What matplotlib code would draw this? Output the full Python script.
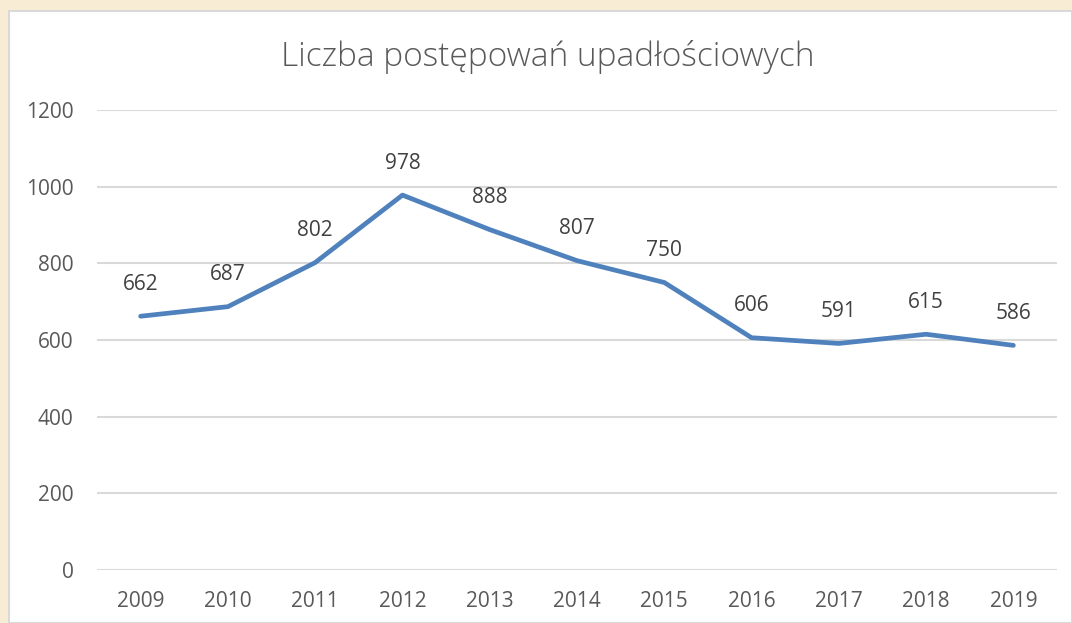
import matplotlib.pyplot as plt
from matplotlib.patches import Rectangle

# dane
lata = ["2009", "2010", "2011", "2012", "2013", "2014", "2015", "2016", "2017", "2018", "2019"]
postepowania = [662, 687, 802, 978, 888, 807, 750, 606, 591, 615, 586]
tytul = "Liczba postępowań upadłościowych"

W, H = 1072, 623
fig = plt.figure(figsize=(W / 100, H / 100), dpi=100)
fig.patch.set_facecolor("#f8edd4")

# biały obszar wykresu z szarą ramką
fig.add_artist(Rectangle((9 / W, 0), 1 - 9 / W, 1 - 11 / H, transform=fig.transFigure,
                         facecolor="white", edgecolor="#d9d9d9", linewidth=1.5, zorder=0))

ax = fig.add_axes([97 / W, (H - 570) / H, 960 / W, 460 / H])
ax.set_facecolor("none")

x = range(len(lata))
ax.plot(x, postepowania, color="#4f81bd", linewidth=3.4, solid_capstyle="round", zorder=3)
for i, v in zip(x, postepowania):
    ax.annotate(str(v), (i, v), xytext=(0, 23), textcoords="offset points",
                ha="center", va="center", fontsize=15, color="#404040", family="Open Sans")

ax.set_xlim(-0.5, len(lata) - 0.5)
ax.set_ylim(0, 1200)
ax.set_yticks(range(0, 1201, 200))
ax.set_xticks(list(x))
ax.set_xticklabels(lata)
ax.grid(axis="y", color="#d9d9d9", linewidth=1.5)
ax.set_axisbelow(True)
for s in ax.spines.values():
    s.set_visible(False)
ax.tick_params(length=0, labelsize=15, labelcolor="#595959", pad=15)
ax.tick_params(axis="y", pad=17)
for lab in ax.get_xticklabels() + ax.get_yticklabels():
    lab.set_family("Open Sans")

fig.text(548 / W, 1 - 57 / H, tytul, ha="center", va="center", fontsize=24,
         color="#595959", family="Open Sans", fontweight="light")

fig.savefig("out.png", dpi=100, facecolor=fig.get_facecolor())
